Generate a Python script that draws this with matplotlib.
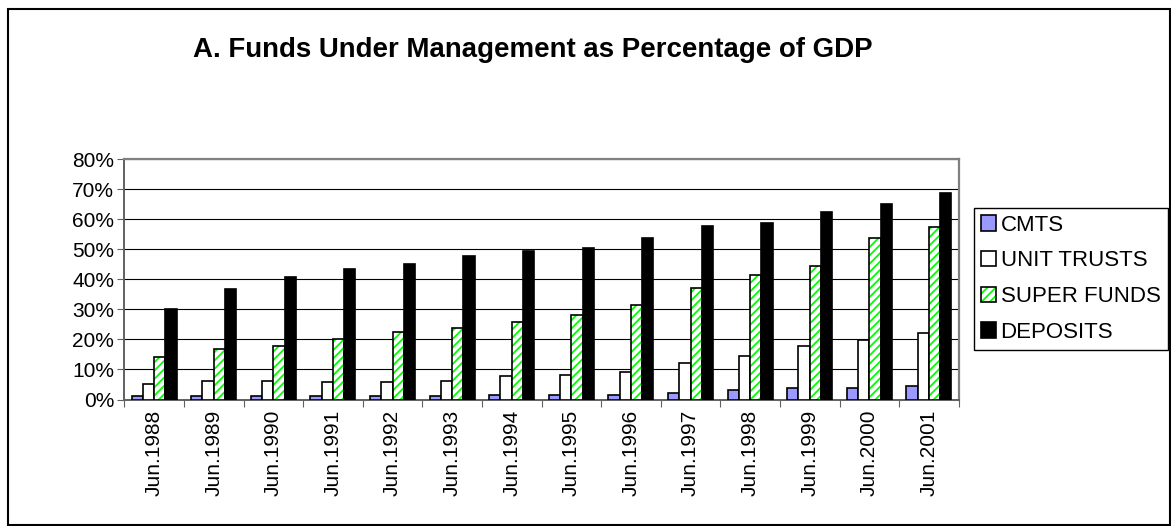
import matplotlib
matplotlib.use('Agg')
import matplotlib.pyplot as plt
from matplotlib.patches import Patch, Rectangle
from matplotlib.ticker import FixedLocator, FuncFormatter
import numpy as np

categories = ['Jun.1988', 'Jun.1989', 'Jun.1990', 'Jun.1991', 'Jun.1992', 'Jun.1993', 'Jun.1994',
              'Jun.1995', 'Jun.1996', 'Jun.1997', 'Jun.1998', 'Jun.1999', 'Jun.2000', 'Jun.2001']
cmts = [1.1, 1.1, 1.1, 1.3, 1.3, 1.3, 1.4, 1.4, 1.4, 2.1, 3.3, 3.7, 3.9, 4.4]
unit_trusts = [5.2, 6.1, 6.3, 5.8, 5.7, 6.2, 7.9, 8.2, 9.2, 12.2, 14.4, 17.8, 19.7, 22.1]
super_funds = [14.3, 16.9, 17.8, 20.2, 22.4, 23.8, 25.9, 28.2, 31.6, 37.3, 41.3, 44.6, 53.7, 57.6]
deposits = [30.0, 36.9, 40.9, 43.4, 45.2, 47.8, 49.3, 50.6, 53.8, 57.8, 58.7, 62.5, 65.1, 68.7]
series_names = ['CMTS', 'UNIT TRUSTS', 'SUPER FUNDS', 'DEPOSITS']
y_ticks = [0, 10, 20, 30, 40, 50, 60, 70, 80]
title = 'A. Funds Under Management as Percentage of GDP'

plt.rcParams['font.family'] = ['Liberation Sans', 'DejaVu Sans']
plt.rcParams['hatch.linewidth'] = 1.3

W, H = 1171, 526
fig = plt.figure(figsize=(W / 100, H / 100), dpi=100)
fig.patch.set_facecolor('white')

left, right, top, bottom = 124.3, 958.7, 159.3, 399.5
ax = fig.add_axes([left / W, 1 - bottom / H, (right - left) / W, (bottom - top) / H])

x = np.arange(len(categories))
bw = 0.188
edge_lw = 1.2
green = '#00FF00'

ax.bar(x - 1.5 * bw, cmts, bw, facecolor='#9999FF', edgecolor='black', linewidth=edge_lw, zorder=3)
ax.bar(x - 0.5 * bw, unit_trusts, bw, facecolor='white', edgecolor='black', linewidth=edge_lw, zorder=3)
ax.bar(x + 0.5 * bw, super_funds, bw, facecolor='white', edgecolor=green, hatch='////', linewidth=0, zorder=3)
ax.bar(x + 0.5 * bw, super_funds, bw, fill=False, edgecolor='black', linewidth=edge_lw, zorder=3.1)
ax.bar(x + 1.5 * bw, deposits, bw, facecolor='black', edgecolor='black', linewidth=edge_lw, zorder=3)

ax.set_xlim(-0.5, len(categories) - 0.5)
ax.set_ylim(0, 80)
ax.set_axisbelow(True)
ax.yaxis.set_major_locator(FixedLocator(y_ticks))
ax.yaxis.set_major_formatter(FuncFormatter(lambda v, p: f'{v:.0f}%'))
ax.yaxis.grid(True, color='black', linewidth=0.8, zorder=0)

ax.set_xticks(np.arange(-0.5, len(categories), 1.0))
ax.set_xticklabels([])
ax.set_xticks(x, minor=True)
ax.set_xticklabels(categories, minor=True, rotation=90)

ax.tick_params(axis='y', direction='out', length=5, width=0.8, color='#606060', labelsize=15, pad=2.2)
ax.tick_params(axis='x', which='major', direction='out', length=5, width=0.8, color='#606060')
ax.tick_params(axis='x', which='minor', length=0, labelsize=15, pad=7.5)

for s in ['top', 'right']:
    ax.spines[s].set_color('#808080')
    ax.spines[s].set_linewidth(1.6)
for s in ['left', 'bottom']:
    ax.spines[s].set_color('#606060')
    ax.spines[s].set_linewidth(1.4)

handles = [
    Patch(facecolor='#9999FF', edgecolor='black', linewidth=edge_lw),
    Patch(facecolor='white', edgecolor='black', linewidth=edge_lw),
    (Patch(facecolor='white', edgecolor=green, hatch='////', linewidth=0),
     Patch(fill=False, edgecolor='black', linewidth=edge_lw)),
    Patch(facecolor='black', edgecolor='black', linewidth=edge_lw),
]
leg = ax.legend(handles, series_names, loc='upper left',
                bbox_to_anchor=(973.5 / W, 1 - 207.7 / H), bbox_transform=fig.transFigure,
                frameon=True, fancybox=False, edgecolor='black', framealpha=1,
                fontsize=16, handlelength=0.68, handleheight=0.68, handletextpad=0.22,
                labelspacing=0.66, borderpad=0.32, borderaxespad=0)
leg.get_frame().set_linewidth(1.0)

fig.text(533 / W, 1 - 50 / H, title, ha='center', va='center', fontsize=19.9, fontweight='bold')

fig.patches.append(Rectangle((7.5 / W, 1 - 524.5 / H), (1169.5 - 7.5) / W, (524.5 - 8.5) / H,
                             transform=fig.transFigure, fill=False, edgecolor='black', linewidth=1.5))

fig.savefig('out.png', dpi=100)
